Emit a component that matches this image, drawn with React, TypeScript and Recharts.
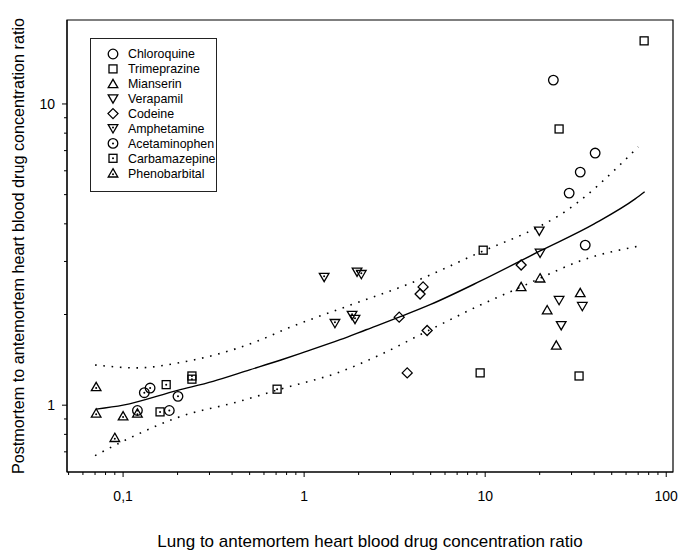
import { Legend, ReferenceArea, Scatter, ScatterChart, XAxis, YAxis } from "recharts"

type Kind = "circle" | "square" | "triUp" | "triDown" | "diamond" | "triDownDot" | "circleDot" | "squareDot" | "triUpDot"

// values (log-log)
const chloroquineX = [23.8, 29.1, 33.5, 35.7, 40.5]
const chloroquineY = [12.0, 5.06, 5.94, 3.4, 6.87]

const trimeprazineX = [9.38, 9.75, 25.6, 33.0, 75.5]
const trimeprazineY = [1.28, 3.27, 8.26, 1.25, 16.2]

const mianserinX = [15.8, 20.1, 22.0, 24.7, 33.5]
const mianserinY = [2.47, 2.64, 2.07, 1.58, 2.36]

const verapamilX = [19.9, 20.1, 25.6, 26.3, 34.4]
const verapamilY = [3.79, 3.2, 2.23, 1.84, 2.13]

const codeineX = [3.35, 3.71, 4.37, 4.54, 4.78, 15.8]
const codeineY = [1.96, 1.28, 2.34, 2.47, 1.77, 2.92]

const amphetamineX = [1.29, 1.48, 1.84, 1.91, 1.96, 2.07]
const amphetamineY = [2.66, 1.87, 1.99, 1.93, 2.77, 2.72]

const acetaminophenX = [0.12, 0.131, 0.141, 0.18, 0.201]
const acetaminophenY = [0.96, 1.1, 1.14, 0.96, 1.07]

const carbamazepineX = [0.16, 0.173, 0.24, 0.24, 0.709]
const carbamazepineY = [0.95, 1.17, 1.22, 1.25, 1.13]

const phenobarbitalX = [0.071, 0.071, 0.09, 0.1, 0.12]
const phenobarbitalY = [1.15, 0.94, 0.78, 0.92, 0.94]

// regression curve and its confidence band
const fitX = [0.071, 0.1, 0.2, 0.314, 0.5, 0.737, 1, 1.58, 2.2, 3.35, 5, 9.38, 20.1, 40, 67.4, 76]
const fitY = [0.97, 1.0, 1.12, 1.2, 1.31, 1.41, 1.5, 1.65, 1.78, 1.96, 2.16, 2.58, 3.25, 4.0, 4.84, 5.11]

const upperX = [0.07, 0.12, 0.2, 0.55, 0.81, 1.73, 4.0, 9.4, 20.1, 25.4, 70]
const upperY = [1.36, 1.33, 1.38, 1.63, 1.8, 2.13, 2.56, 3.22, 3.93, 4.25, 7.2]

const lowerX = [0.07, 0.105, 0.2, 0.44, 0.737, 1.58, 2.63, 4.78, 9.4, 15.8, 20.1, 34.9, 70]
const lowerY = [0.68, 0.77, 0.91, 1.03, 1.13, 1.29, 1.47, 1.76, 2.15, 2.47, 2.64, 3.04, 3.37]

const xMajor = [0.1, 1, 10, 100]
const xMinor = [0.05, 0.06, 0.07, 0.08, 0.09, 0.2, 0.3, 0.4, 0.5, 0.6, 0.7, 0.8, 0.9, 2, 3, 4, 5, 6, 7, 8, 9, 20, 30, 40, 50, 60, 70, 80, 90]
const yMajor = [1, 10]
const yMinor = [0.7, 0.8, 0.9, 2, 3, 4, 5, 6, 7, 8, 9]

const zip = (xs: number[], ys: number[]) => xs.map((x, i) => ({ x, y: ys[i] }))

const series: { name: string; kind: Kind; xs: number[]; ys: number[] }[] = [
  { name: "Chloroquine", kind: "circle", xs: chloroquineX, ys: chloroquineY },
  { name: "Trimeprazine", kind: "square", xs: trimeprazineX, ys: trimeprazineY },
  { name: "Mianserin", kind: "triUp", xs: mianserinX, ys: mianserinY },
  { name: "Verapamil", kind: "triDown", xs: verapamilX, ys: verapamilY },
  { name: "Codeine", kind: "diamond", xs: codeineX, ys: codeineY },
  { name: "Amphetamine", kind: "triDownDot", xs: amphetamineX, ys: amphetamineY },
  { name: "Acetaminophen", kind: "circleDot", xs: acetaminophenX, ys: acetaminophenY },
  { name: "Carbamazepine", kind: "squareDot", xs: carbamazepineX, ys: carbamazepineY },
  { name: "Phenobarbital", kind: "triUpDot", xs: phenobarbitalX, ys: phenobarbitalY },
]

const order = series.map(s => s.name)
const kindByName: Record<string, Kind> = Object.fromEntries(series.map(s => [s.name, s.kind]))

const FONT = "'Liberation Sans', Arial, sans-serif"

function Marker({ cx, cy, kind }: { cx: number; cy: number; kind: Kind }) {
  const st = { fill: "none", stroke: "#000", strokeWidth: 1.3 }
  const dot = <circle cx={cx} cy={cy} r={1} fill="#000" />
  switch (kind) {
    case "circle":
      return <circle cx={cx} cy={cy} r={4.8} {...st} />
    case "circleDot":
      return (
        <g>
          <circle cx={cx} cy={cy} r={4.8} {...st} />
          {dot}
        </g>
      )
    case "square":
      return <rect x={cx - 4} y={cy - 4} width={8} height={8} {...st} />
    case "squareDot":
      return (
        <g>
          <rect x={cx - 4} y={cy - 4} width={8} height={8} {...st} />
          {dot}
        </g>
      )
    case "triUp":
      return <path d={`M${cx},${cy - 4.5}L${cx + 4.8},${cy + 3.8}L${cx - 4.8},${cy + 3.8}Z`} {...st} />
    case "triUpDot":
      return (
        <g>
          <path d={`M${cx},${cy - 4.5}L${cx + 4.8},${cy + 3.8}L${cx - 4.8},${cy + 3.8}Z`} {...st} />
          <circle cx={cx} cy={cy + 1} r={1} fill="#000" />
        </g>
      )
    case "triDown":
      return <path d={`M${cx},${cy + 4.5}L${cx + 4.8},${cy - 3.8}L${cx - 4.8},${cy - 3.8}Z`} {...st} />
    case "triDownDot":
      return (
        <g>
          <path d={`M${cx},${cy + 4.5}L${cx + 4.8},${cy - 3.8}L${cx - 4.8},${cy - 3.8}Z`} {...st} />
          <circle cx={cx} cy={cy - 1} r={1} fill="#000" />
        </g>
      )
    case "diamond":
      return <path d={`M${cx},${cy - 5}L${cx + 5},${cy}L${cx},${cy + 5}L${cx - 5},${cy}Z`} {...st} />
  }
  return <g />
}

const XTick = (props: any) => {
  const { x, y, payload } = props
  const v = payload.value
  const major = xMajor.includes(v)
  return (
    <g>
      <line x1={x} y1={y} x2={x} y2={y + (major ? 5 : 3)} stroke="#000" />
      {major && (
        <text x={x} y={y + 29} textAnchor="middle" fontSize={14} fill="#000" fontFamily={FONT}>
          {String(v).replace(".", ",")}
        </text>
      )}
    </g>
  )
}

const YTick = (props: any) => {
  const { x, y, payload } = props
  const v = payload.value
  const major = yMajor.includes(v)
  return (
    <g>
      <line x1={x} y1={y} x2={x - (major ? 5 : 3)} y2={y} stroke="#000" />
      {major && (
        <text x={x - 12} y={y} dy="0.35em" textAnchor="end" fontSize={14} fill="#000" fontFamily={FONT}>
          {v}
        </text>
      )}
    </g>
  )
}

const LegendBox = (props: any) => {
  const items = (props.payload || [])
    .filter((e: any) => kindByName[e.value])
    .sort((a: any, b: any) => order.indexOf(a.value) - order.indexOf(b.value))
  return (
    <div style={{ width: 127, height: 154, border: "1px solid #222", boxSizing: "border-box", background: "#fff" }}>
      <svg width={125} height={152}>
        {items.map((e: any, i: number) => (
          <g key={e.value}>
            <Marker cx={22} cy={15 + i * 14.9} kind={kindByName[e.value]} />
            <text x={37} y={15 + i * 14.9} dy="0.35em" fontSize={12.4} fill="#000" fontFamily={FONT}>
              {e.value}
            </text>
          </g>
        ))}
      </svg>
    </div>
  )
}

const noShape = () => <g />

export default function App() {
  return (
    <div style={{ position: "absolute", left: 0, top: 0, fontFamily: FONT }}>
      <ScatterChart width={680} height={550} margin={{ top: 20, right: 7, bottom: 0, left: 0 }}>
        <XAxis
          dataKey="x"
          type="number"
          scale="log"
          domain={[0.049, 109]}
          allowDataOverflow
          ticks={[...xMinor, ...xMajor].sort((a, b) => a - b)}
          interval={0}
          tick={<XTick />}
          tickLine={false}
          tickSize={0}
          tickMargin={0}
          height={78}
          axisLine={{ stroke: "#000" }}
          label={{
            value: "Lung to antemortem heart blood drug concentration ratio",
            position: "insideBottom",
            offset: 3,
            fill: "#000",
            fontSize: 17,
          }}
        />
        <YAxis
          dataKey="y"
          type="number"
          scale="log"
          domain={[0.6, 19]}
          allowDataOverflow
          ticks={[...yMinor, ...yMajor].sort((a, b) => a - b)}
          interval={0}
          tick={<YTick />}
          tickLine={false}
          tickSize={0}
          tickMargin={0}
          width={67}
          axisLine={{ stroke: "#000" }}
          label={{
            value: "Postmortem to antemortem heart blood drug concentration ratio",
            angle: -90,
            position: "insideLeft",
            offset: 18,
            fill: "#000",
            fontSize: 16.2,
            style: { textAnchor: "middle" },
          }}
        />
        <ReferenceArea x1={0.049} x2={109} y1={0.6} y2={19} fill="none" stroke="#000" strokeWidth={1.2} ifOverflow="visible" />
        <Scatter
          name="fit"
          legendType="none"
          data={zip(fitX, fitY)}
          line={{ stroke: "#000", strokeWidth: 1.4 }}
          lineJointType="monotoneX"
          shape={noShape}
          isAnimationActive={false}
        />
        <Scatter
          name="upper"
          legendType="none"
          data={zip(upperX, upperY)}
          line={{ stroke: "#000", strokeWidth: 1.6, strokeDasharray: "1.6 6.7" }}
          lineJointType="monotoneX"
          shape={noShape}
          isAnimationActive={false}
        />
        <Scatter
          name="lower"
          legendType="none"
          data={zip(lowerX, lowerY)}
          line={{ stroke: "#000", strokeWidth: 1.6, strokeDasharray: "1.6 6.7" }}
          lineJointType="monotoneX"
          shape={noShape}
          isAnimationActive={false}
        />
        {series.map(s => (
          <Scatter
            key={s.name}
            name={s.name}
            data={zip(s.xs, s.ys)}
            fill="#000"
            shape={(p: any) => <Marker cx={p.cx} cy={p.cy} kind={s.kind} />}
            isAnimationActive={false}
          />
        ))}
        <Legend
          layout="vertical"
          align="center"
          verticalAlign="middle"
          wrapperStyle={{ left: 90, top: 38, width: 127, height: 154 }}
          content={<LegendBox />}
        />
      </ScatterChart>
    </div>
  )
}
